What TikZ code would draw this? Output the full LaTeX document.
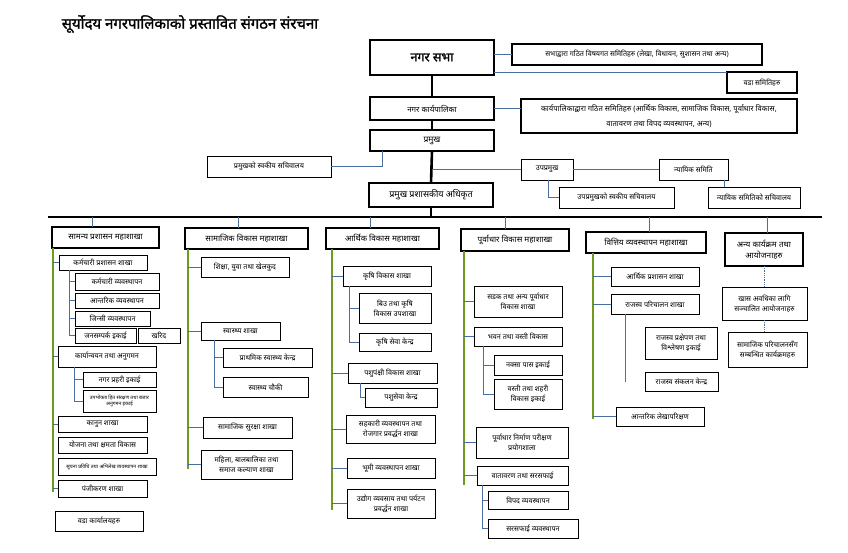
\documentclass[tikz,border=0pt]{standalone}
\usepackage{fontspec}
\setmainfont{Noto Sans}[Script=Devanagari]
\newfontfamily\devbold[Script=Devanagari,FakeBold=1.6]{Noto Sans}
\usetikzlibrary{calc}
\definecolor{cblue}{HTML}{4A6E9E}
\definecolor{cgreen}{HTML}{6E9A1E}
\newcommand{\B}[7][]{\node[bx,#1,minimum width={(#5-#3)*1pt},minimum height={(#6-#4)*1pt}] (#2) at ({(#3+#5)/2},{(#4+#6)/2}) {#7};}
\tikzset{
  bx/.style={draw, line width=0.8pt, inner sep=1pt, outer sep=0pt, align=center, fill=white, font=\fontsize{7.2}{10}\selectfont},
  mbx/.style={line width=2.2pt, font=\fontsize{8.2}{11}\selectfont},
  tinyf/.style={font=\fontsize{5}{6.5}\selectfont},
  conn/.style={draw=cblue, line width=0.8pt},
  dotconn/.style={draw=cblue, line width=0.8pt, densely dotted},
  trunk/.style={draw=cgreen, line width=2pt},
  spine/.style={draw=black, line width=2.6pt}
}
\begin{document}
\begin{tikzpicture}[x=1pt,y=-1pt]
\useasboundingbox[fill=white] (0,0) rectangle (848,552);
\node[font=\devbold\fontsize{15}{18}\selectfont] (title) at (190,24) {सूर्योदय नगरपालिकाको प्रस्तावित संगठन संरचना};

% top nodes
\B[line width=2.5pt,font=\devbold\fontsize{12.5}{14}\selectfont]{ns}{370}{40}{494}{75}{नगर सभा}
\B[line width=1.3pt]{nsc}{512}{44}{762}{65}{सभाद्वारा गठित विषयगत समितिहरु (लेखा, विधायन, सुशासन तथा अन्य)}
\B[line width=2pt]{wc}{727}{72}{797}{93}{वडा समितिहरु}
\B[line width=2pt,font=\fontsize{8}{9}\selectfont]{nk}{370}{97}{494}{120}{नगर कार्यपालिका}
\B[line width=1.5pt,font=\fontsize{7.6}{15}\selectfont]{nkc}{521}{99}{797}{133}{कार्यपालिकाद्वारा गठित समितिहरु (आर्थिक विकास, सामाजिक विकास, पूर्वाधार विकास,\\ वातावरण तथा विपद व्यवस्थापन, अन्य)}
\B[line width=2.2pt,font=\fontsize{8.5}{9}\selectfont]{pr}{370}{130}{494}{151}{प्रमुख}
\B{ps}{207}{156}{331}{177}{प्रमुखको स्वकीय सचिवालय}
\B{up}{521}{159}{573}{180}{उपप्रमुख}
\B{ny}{659}{159}{728}{180}{न्यायिक समिति}
\B[line width=2.2pt,font=\fontsize{9}{10}\selectfont]{cao}{369}{183}{493}{207}{प्रमुख प्रशासकीय अधिकृत}
\B{ups}{559}{187}{674}{208}{उपप्रमुखको स्वकीय सचिवालय}
\B{nys}{708}{187}{800}{208}{न्यायिक समितिको सचिवालय}

% top connectors
\draw[spine] (ns.south) -- (nk.north);
\draw[spine] (nk.south) -- (pr.north);
\draw[spine] (pr.south) -- (cao.north);
\draw[conn] (ns.east |- nsc.west) -- (nsc.west);
\draw[conn] (ns.east |- wc.north west) -- (wc.north west);
\draw[conn] (nk.east) -- (nk.east -| nkc.west);
\coordinate (psd) at ($(pr.south west)+(12,0)$);
\draw[conn] (ps.east) -| (psd);
\draw[conn] (pr.south |- up.west) -- (up.west);
\draw[conn] (up.east) -- (ny.west);
\coordinate (upd) at ($(up.south west)+(27,0)$);
\draw[conn] (upd) |- (ups.west);
\coordinate (nyd) at ($(ny.south west)+(65,0)$);
\draw[conn] (nyd) -- (nyd |- nys.north);

% mahashakha
\B[mbx]{m1}{52}{227}{159}{248}{सामन्य प्रशासन महाशाखा}
\B[mbx]{m2}{185}{228}{308}{249}{सामाजिक विकास महाशाखा}
\B[mbx]{m3}{326}{228}{439}{249}{आर्थिक विकास महाशाखा}
\B[mbx]{m4}{461}{229}{569}{251}{पूर्वाधार विकास महाशाखा}
\B[mbx]{m5}{586}{232}{706}{253}{वित्तिय व्यवस्थापन महाशाखा}
\B[mbx]{m6}{725}{233}{803}{266}{अन्य कार्यक्रम तथा\\आयोजनाहरु}

% bar
\coordinate (barL) at (48,217);
\coordinate (barR) at (822,217);
\draw[spine] (cao.south) -- (cao.south |- barL);
\draw[spine] (barL) -- (barR);
\coordinate (d1) at ($(m1.north west)+(40,0)$);
\coordinate (d2) at ($(m2.north west)+(53,0)$);
\coordinate (d3) at ($(m3.north west)+(44,0)$);
\coordinate (d4) at ($(m4.north west)+(44,0)$);
\coordinate (d5) at ($(m5.north west)+(63,0)$);
\coordinate (d6) at ($(m6.north west)+(42,0)$);
\foreach \d in {d1,d2,d3,d4,d5,d6} {\draw[conn] (\d |- barL) -- (\d);}

% column 1
\B{a1}{59}{255}{147}{270}{कर्मचारी प्रशासन शाखा}
\B{a11}{75}{273}{159}{290}{कर्मचारी व्यवस्थापन}
\B{a12}{75}{293}{159}{308}{आन्तरिक व्यवस्थापन}
\B{a13}{75}{311}{150}{326}{जिन्सी व्यवस्थापन}
\B{a14}{75}{328}{136}{343}{जनसम्पर्क इकाई}
\B{a15}{138}{328}{180}{343}{खरिद}
\B{a2}{58}{346}{156}{367}{कार्यान्वयन तथा अनुगमन}
\B{a21}{83}{372}{156}{387}{नगर प्रहरी इकाई}
\B[tinyf]{a22}{83}{390}{156}{412}{उपभोक्ता हित संरक्षण तथा बजार\\अनुगमन इकाई}
\B{a3}{58}{416}{147}{432}{कानुन शाखा}
\B{a4}{58}{437}{147}{453}{योजना तथा क्षमता विकास}
\B[tinyf]{a5}{58}{458}{156}{475}{सूचना प्रविधि तथा अभिलेख व्यवस्थापन शाखा}
\B{a6}{58}{480}{147}{497}{पंजीकरण शाखा}
\B{a7}{55}{511}{143}{531}{वडा कार्यालयहरु}
\coordinate (g1) at ($(m1.south west)+(1,0)$);
\draw[trunk] (g1) -- ($(g1 |- a6.west)+(0,3)$);
\foreach \c in {a1,a2,a3,a6} {\draw[conn] (g1 |- \c.west) -- (\c.west);}
\coordinate (s1) at ($(a1.south west)+(10,0)$);
\draw[conn] (s1) |- (a14.west);
\foreach \c in {a11,a12,a13} {\draw[conn] (s1 |- \c.west) -- (\c.west);}
\coordinate (s2) at ($(a2.south west)+(16,0)$);
\draw[conn] (s2) |- (a22.west);
\draw[conn] (s2 |- a21.west) -- (a21.west);

% column 2
\B{b1}{201}{257}{289}{277}{शिक्षा, युवा तथा खेलकुद}
\B{b2}{201}{322}{280}{340}{स्वास्थ्य शाखा}
\B{b21}{223}{348}{312}{367}{प्राथमिक स्वास्थ्य केन्द्र}
\B{b22}{223}{377}{308}{397}{स्वास्थ्य चौकी}
\B{b3}{203}{417}{292}{438}{सामाजिक सुरक्षा शाखा}
\B{b4}{201}{450}{292}{479}{महिला, बालबालिका तथा\\समाज कल्याण शाखा}
\coordinate (g2) at ($(m2.south west)+(3,0)$);
\draw[trunk] (g2) -- ($(g2 |- b4.west)+(0,4)$);
\foreach \c in {b1,b2,b3,b4} {\draw[conn] (g2 |- \c.west) -- (\c.west);}
\coordinate (s3) at ($(b2.south west)+(13,0)$);
\draw[conn] (s3) |- (b22.west);
\draw[conn] (s3 |- b21.west) -- (b21.west);

% column 3
\B{c1}{343}{266}{431}{286}{कृषि विकास शाखा}
\B{c11}{359}{293}{431}{323}{बिउ तथा कृषि\\विकास उपशाखा}
\B{c12}{359}{333}{431}{351}{कृषि सेवा केन्द्र}
\B{c2}{348}{363}{437}{383}{पशुपंक्षी विकास शाखा}
\B{c21}{365}{388}{437}{407}{पशुसेवा केन्द्र}
\B{c3}{346}{415}{435}{443}{सहकारी व्यवस्थापन तथा\\रोजगार प्रवर्द्धन शाखा}
\B{c4}{347}{458}{435}{478}{भूमी व्यवस्थापन शाखा}
\B{c5}{347}{489}{435}{518}{उद्योग व्यवसाय तथा पर्यटन\\प्रवर्द्धन शाखा}
\coordinate (g3) at ($(m3.south west)+(6,0)$);
\draw[trunk] (g3) -- ($(g3 |- c5.west)+(0,6)$);
\foreach \c in {c1,c2,c3,c4,c5} {\draw[conn] (g3 |- \c.west) -- (\c.west);}
\coordinate (s4) at ($(c1.south west)+(6,0)$);
\draw[conn] (s4) |- (c12.west);
\draw[conn] (s4 |- c11.west) -- (c11.west);
\coordinate (s5) at ($(c2.south west)+(12,0)$);
\draw[conn] (s5) |- (c21.west);

% column 4
\B{e1}{474}{286}{562}{317}{सडक तथा अन्य पूर्वाधार\\विकास शाखा}
\B{e2}{474}{327}{562}{346}{भवन तथा वस्ती विकास}
\B{e21}{494}{355}{562}{375}{नक्सा पास इकाई}
\B{e22}{494}{379}{562}{409}{वस्ती तथा शहरी\\विकास इकाई}
\B{e3}{476}{427}{568}{458}{पूर्वाधार निर्माण परीक्षण\\प्रयोगशाला}
\B{e4}{477}{466}{568}{485}{वातावरण तथा सरसफाई}
\B{e41}{488}{491}{568}{509}{विपद व्यवस्थापन}
\B{e42}{488}{519}{578}{538}{सरसफाई व्यवस्थापन}
\coordinate (g4) at ($(m4.south west)+(3,0)$);
\draw[trunk] (g4) -- ($(g4 |- e4.west)+(0,9)$);
\foreach \c in {e1,e2,e3,e4} {\draw[conn] (g4 |- \c.west) -- (\c.west);}
\coordinate (s6) at ($(e2.south west)+(9,0)$);
\draw[conn] (s6) |- (e22.west);
\draw[conn] (s6 |- e21.west) -- (e21.west);
\coordinate (s7) at ($(e4.south west)+(5,0)$);
\draw[conn] (s7) |- (e42.west);
\draw[conn] (s7 |- e41.west) -- (e41.west);

% column 5
\B{f1}{611}{267}{699}{286}{आर्थिक प्रशासन शाखा}
\B{f2}{611}{294}{699}{314}{राजस्व परिचालन शाखा}
\B{f21}{645}{327}{717}{359}{राजस्व प्रक्षेपण तथा\\विश्लेषण इकाई}
\B{f22}{645}{372}{718}{391}{राजस्व संकलन केन्द्र}
\B{f3}{616}{407}{704}{426}{आन्तरिक लेखापरिक्षण}
\coordinate (g5) at ($(m5.south west)+(7,0)$);
\draw[trunk] (g5) -- ($(g5 |- f3.west)+(0,2)$);
\foreach \c in {f1,f2,f3} {\draw[conn] (g5 |- \c.west) -- (\c.west);}
\coordinate (s8) at ($(f2.south west)+(14,0)$);
\draw[conn] (s8) -- (s8 |- f22.west);

% column 6
\B{h1}{722}{287}{807}{320}{खास अवधिका लागि\\सञ्चालित आयोजनाहरु}
\B{h2}{728}{332}{807}{367}{सामाजिक परिचालनसँग\\सम्बन्धित कार्यक्रमहरु}
\draw[dotconn] (m6.south) -- (m6.south |- h1.north);
\draw[dotconn] (h1.south) -- (h1.south |- h2.north);
\end{tikzpicture}
\end{document}
